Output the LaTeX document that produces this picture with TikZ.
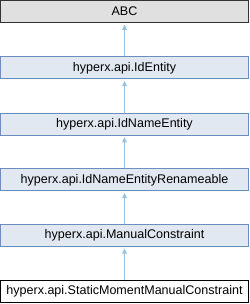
\documentclass[tikz,border=0pt]{standalone}
\usepackage{fontspec}
\setmainfont{Liberation Sans}
\usepackage{tikz}
\usetikzlibrary{arrows.meta,positioning}
\definecolor{boxfill}{HTML}{E2E8F2}
\definecolor{boxline}{HTML}{6C8EBF}
\definecolor{extfill}{HTML}{E0E0E0}
\definecolor{edgeblue}{HTML}{94C4E0}
\tikzset{>=latex}
\tikzset{cls/.style={draw=boxline, fill=boxfill, line width=0.75pt,
    minimum width=186pt, minimum height=16.5pt, inner sep=0pt,
    font=\fontsize{9.4pt}{11pt}\selectfont}}
\tikzset{extcls/.style={cls, draw=black!80, fill=extfill}}
\tikzset{curcls/.style={cls, draw=black, fill=white}}
\tikzset{inherit/.style={draw=edgeblue, line width=0.75pt,
    -{Triangle[width=3.6pt,length=4pt]}, shorten >=1.2pt}}

\begin{document}
\begin{tikzpicture}[x=0.75pt,y=-0.75pt]
          \useasboundingbox (0,0) rectangle (250,304);
          \node[extcls] (abc) at (124.5,11.5) {ABC};
          \node[cls] (identity) at (124.5,67.8) {hyperx.api.IdEntity};
          \node[cls] (idname) at (124.5,124) {hyperx.api.IdNameEntity};
          \node[cls] (renameable) at (124.5,179.8) {hyperx.api.IdNameEntityRenameable};
          \node[cls] (manual) at (124.5,235.3) {hyperx.api.ManualConstraint};
          \node[curcls] (staticmoment) at (124.5,291.3) {hyperx.api.StaticMomentManualConstraint};
          % inheritance edges, child to parent
          \draw[inherit] (identity) -- (abc);
          \draw[inherit] (idname) -- (identity);
          \draw[inherit] (renameable) -- (idname);
          \draw[inherit] (manual) -- (renameable);
          \draw[inherit] (staticmoment) -- (manual);
        \end{tikzpicture}
\end{document}
